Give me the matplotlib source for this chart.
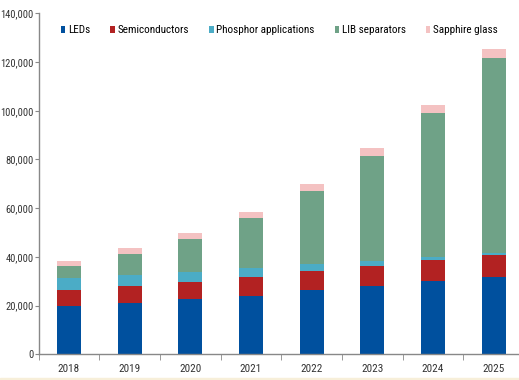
import matplotlib
matplotlib.use("Agg")
import matplotlib.pyplot as plt
import matplotlib.ticker as mtick
import numpy as np

plt.rcParams["font.family"] = ["Roboto Condensed", "DejaVu Sans"]

years = ["2018", "2019", "2020", "2021", "2022", "2023", "2024", "2025"]
leds = [20000, 21200, 22600, 24100, 26400, 28000, 30000, 31700]
semiconductors = [6500, 7000, 7200, 7700, 7800, 8300, 8700, 9200]
phosphor = [4900, 4400, 4000, 3600, 3000, 2100, 1100, 600]
lib_separators = [4800, 8700, 13500, 20400, 29800, 43100, 59100, 80300]
sapphire = [2200, 2200, 2500, 2500, 2900, 3000, 3300, 3600]

series = [
    ("LEDs", leds, "#00509e"),
    ("Semiconductors", semiconductors, "#b22222"),
    ("Phosphor applications", phosphor, "#4bacc6"),
    ("LIB separators", lib_separators, "#6fa287"),
    ("Sapphire glass", sapphire, "#f4c2c2"),
]

fig = plt.figure(figsize=(5.19, 3.80), dpi=100)
ax = fig.add_axes([0.0745, 0.0676, 0.935, 0.8974])

x = np.arange(len(years))
bottom = np.zeros(len(years))
for name, vals, color in series:
    ax.bar(x, vals, 0.395, bottom=bottom, color=color, label=name,
           edgecolor="none", zorder=2)
    bottom += np.array(vals)

ax.set_xlim(-0.5, 7.5)
ax.set_ylim(0, 140000)
ax.yaxis.set_major_locator(mtick.MultipleLocator(20000))
ax.yaxis.set_major_formatter(mtick.StrMethodFormatter("{x:,.0f}"))
ax.set_xticks(x)
ax.set_xticklabels(years)
ax.set_xticks(np.arange(-0.5, 8.0, 1.0), minor=True)
ax.tick_params(axis="x", which="major", length=0, pad=7, labelsize=8, colors="#333333")
ax.tick_params(axis="x", which="minor", length=4, direction="out", color="#888888")
ax.tick_params(axis="y", length=3, direction="out", color="#888888", labelsize=7.6,
               labelcolor="#333333", pad=0.5)

for s in ["top", "right"]:
    ax.spines[s].set_visible(False)
for s in ["left", "bottom"]:
    ax.spines[s].set_color("#888888")
    ax.spines[s].set_linewidth(1.0)

ax.legend(loc="center left", bbox_to_anchor=(0.046, 0.95), ncol=5, frameon=False,
          fontsize=8, handlelength=0.4, handleheight=0.6, handletextpad=0.25,
          columnspacing=1.8, borderaxespad=0, borderpad=0)

# thin beige strip at the bottom edge
fig.patches.append(plt.Rectangle((0, 0), 1, 0.006, transform=fig.transFigure,
                                 color="#f7efd9", zorder=0))

fig.savefig("out.png", dpi=100)
